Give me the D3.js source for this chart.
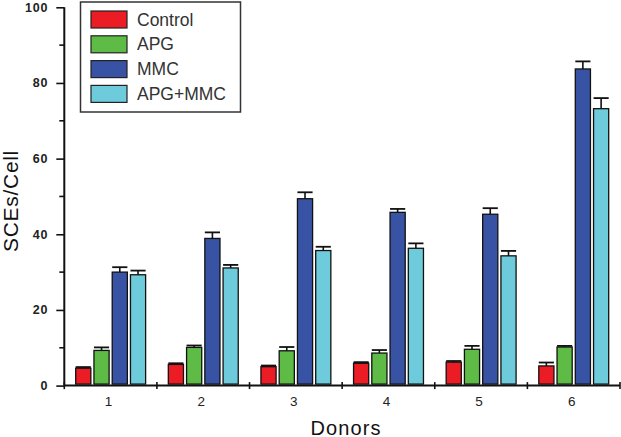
<!DOCTYPE html>
<html><head><meta charset="utf-8">
<script src="https://cdn.jsdelivr.net/npm/d3@7"></script>
<style>body{margin:0;background:#fff} svg{display:block}</style>
</head><body>
<svg id="chart" width="621" height="437"></svg>
<script>
const donors = ["1","2","3","4","5","6"];
const seriesNames = ["Control","APG","MMC","APG+MMC"];
const control = [4.6, 5.6, 5.0, 5.9, 6.2, 5.2];
const apg = [9.3, 10.1, 9.2, 8.6, 9.6, 10.2];
const mmc = [30.0, 38.9, 49.4, 45.8, 45.3, 83.7];
const apgMmc = [29.3, 31.1, 35.7, 36.3, 34.3, 73.2];
const controlErr = [0.3, 0.3, 0.3, 0.3, 0.3, 0.9];
const apgErr = [0.8, 0.5, 1.0, 0.8, 0.9, 0.3];
const mmcErr = [1.3, 1.6, 1.7, 0.9, 1.6, 2.0];
const apgMmcErr = [1.1, 0.8, 1.0, 1.3, 1.3, 2.8];
const colors = ["#ec1c24", "#5dbb46", "#3953a4", "#6dcbdc"];
const yTicks = [0, 20, 40, 60, 80, 100];
const yMinorTicks = [10, 30, 50, 70, 90];

const values = [control, apg, mmc, apgMmc];
const errors = [controlErr, apgErr, mmcErr, apgMmcErr];

const svg = d3.select("#chart");
const x0 = 64.3, x1 = 620, yBase = 385.6, yTop = 7.3;

const x = d3.scaleBand().domain(donors).range([x0, x1]).paddingInner(0).paddingOuter(0);
const xs = d3.scaleBand().domain(seriesNames).range([11.4, x.bandwidth() - 11.3]).paddingInner(0.17).paddingOuter(0);
const y = d3.scaleLinear().domain([0, 100]).range([yBase, yTop]);

const font = "'Liberation Sans', Arial, sans-serif";

const data = [];
donors.forEach((d, i) => {
  seriesNames.forEach((s, j) => {
    data.push({donor: d, series: s, v: values[j][i], e: errors[j][i], c: colors[j]});
  });
});

const g = svg.append("g");
g.selectAll("rect.bar").data(data).join("rect")
  .attr("class", "bar")
  .attr("x", d => x(d.donor) + xs(d.series))
  .attr("y", d => y(d.v))
  .attr("width", xs.bandwidth())
  .attr("height", d => y(0) - y(d.v) - 1.5)
  .attr("fill", d => d.c)
  .attr("stroke", "#111")
  .attr("stroke-width", 1.3);

g.selectAll("line.err").data(data).join("line")
  .attr("class", "err")
  .attr("x1", d => x(d.donor) + xs(d.series) + xs.bandwidth() / 2)
  .attr("x2", d => x(d.donor) + xs(d.series) + xs.bandwidth() / 2)
  .attr("y1", d => y(d.v))
  .attr("y2", d => y(d.v + d.e))
  .attr("stroke", "#111").attr("stroke-width", 1.6);
g.selectAll("line.cap").data(data).join("line")
  .attr("class", "cap")
  .attr("x1", d => x(d.donor) + xs(d.series))
  .attr("x2", d => x(d.donor) + xs(d.series) + xs.bandwidth())
  .attr("y1", d => y(d.v + d.e))
  .attr("y2", d => y(d.v + d.e))
  .attr("stroke", "#111").attr("stroke-width", 1.8);

// y axis
const yAxis = svg.append("g").attr("transform", `translate(${x0},0)`)
  .call(d3.axisLeft(y).tickValues(yTicks).tickSize(8).tickPadding(8));
yAxis.select(".domain").attr("stroke", "#111").attr("stroke-width", 2).attr("d", `M0,${yBase}V${yTop}`);
yAxis.selectAll(".tick line").attr("stroke", "#111").attr("stroke-width", 1.6);
yAxis.selectAll(".tick text").attr("font-family", font).attr("font-size", 12.5).attr("font-weight", "bold").attr("fill", "#222").attr("letter-spacing", "0.8px");
svg.append("g").selectAll("line").data(yMinorTicks).join("line")
  .attr("x1", x0 - 5).attr("x2", x0).attr("y1", d => y(d)).attr("y2", d => y(d))
  .attr("stroke", "#111").attr("stroke-width", 1.6);

// x axis
const xAxis = svg.append("g").attr("transform", `translate(-2,${yBase})`)
  .call(d3.axisBottom(x).tickSize(0).tickPadding(11));
xAxis.select(".domain").attr("stroke", "#111").attr("stroke-width", 2).attr("d", `M${x0 + 2},0H${x1 + 2}`);
xAxis.selectAll(".tick text").attr("font-family", font).attr("font-size", 13.5).attr("fill", "#222");
const bounds = donors.map(d => x(d)).concat([x1]);
svg.append("g").selectAll("line").data(bounds).join("line")
  .attr("x1", d => d).attr("x2", d => d)
  .attr("y1", yBase - 3.5).attr("y2", yBase + 3.5)
  .attr("stroke", "#111").attr("stroke-width", 1.6);

// axis titles
svg.append("text").attr("x", 346).attr("y", 434.5)
  .attr("text-anchor", "middle").attr("font-family", font).attr("font-size", 20).attr("letter-spacing", "1.1px").attr("fill", "#111")
  .text("Donors");
svg.append("text").attr("transform", "translate(18,201) rotate(-90)")
  .attr("text-anchor", "middle").attr("font-family", font).attr("font-size", 21).attr("letter-spacing", "0.7px").attr("fill", "#111")
  .text("SCEs/Cell");

// legend
const lg = svg.append("g");
lg.append("rect").attr("x", 80.5).attr("y", 2).attr("width", 160).attr("height", 110)
  .attr("fill", "#fff").attr("stroke", "#333").attr("stroke-width", 1.5);
const li = lg.selectAll("g.item").data(seriesNames).join("g")
  .attr("transform", (d, i) => `translate(91,${11 + i * 24.8})`);
li.append("rect").attr("width", 36).attr("height", 17)
  .attr("fill", (d, i) => colors[i]).attr("stroke", "#222").attr("stroke-width", 1.2);
li.append("text").attr("x", 46).attr("y", 8.5).attr("dy", "0.35em")
  .attr("font-family", font).attr("font-size", 17.5).attr("fill", "#333")
  .text(d => d);
</script>
</body></html>
